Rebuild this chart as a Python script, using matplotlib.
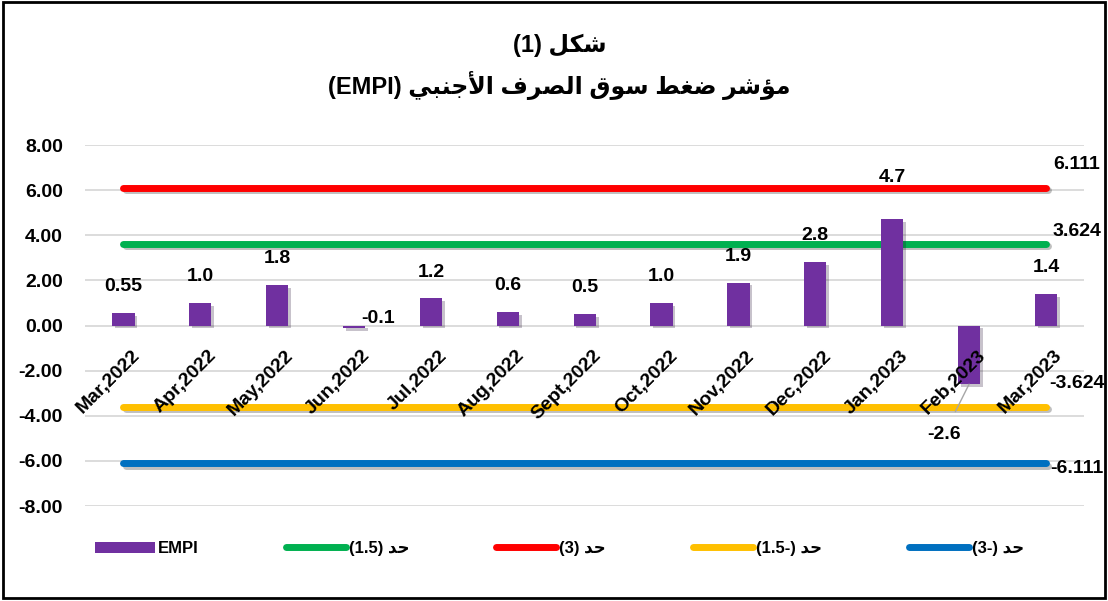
import matplotlib
matplotlib.use('Agg')
import matplotlib.pyplot as plt
import matplotlib.patheffects as pe
from matplotlib.patches import Patch, Rectangle
from matplotlib.lines import Line2D

plt.rcParams['font.family'] = ['Liberation Sans', 'DejaVu Sans']

months = ['Mar,2022', 'Apr,2022', 'May,2022', 'Jun,2022', 'Jul,2022', 'Aug,2022',
          'Sept,2022', 'Oct,2022', 'Nov,2022', 'Dec,2022', 'Jan,2023', 'Feb,2023', 'Mar,2023']
empi = [0.55, 1.0, 1.8, -0.1, 1.2, 0.6, 0.5, 1.0, 1.9, 2.8, 4.7, -2.6, 1.4]
empi_labels = ['0.55', '1.0', '1.8', '-0.1', '1.2', '0.6', '0.5', '1.0', '1.9', '2.8', '4.7', '-2.6', '1.4']
lim_pos15 = 3.624
lim_pos3 = 6.111
lim_neg15 = -3.624
lim_neg3 = -6.111

# arabic text in visual order (presentation forms, matplotlib has no shaping)
had = '\uFEAA\uFEA3'  # حد
title1 = '(1) \uFEDE\uFEDC\uFEB7'  # شكل (1)
title2 = ('(EMPI) '
          '\uFEF2\uFE92\uFEE8\uFE9F\uFEF7\uFE8D '
          '\uFED1\uFEAE\uFEBC\uFEDF\uFE8D '
          '\uFED5\uFEEE\uFEB3 '
          '\uFEC2\uFED0\uFEBF '
          '\uFEAE\uFEB7\uFE86\uFEE3')

c_bar = '#7030A0'
c_green = '#00B050'
c_red = '#FF0000'
c_yellow = '#FFC000'
c_blue = '#0070C0'

fig = plt.figure(figsize=(11.08, 6.01), dpi=100)
ax = fig.add_axes([0.0767, 0.158, 0.902, 0.6007])

x = list(range(len(months)))
shadow_line = [pe.SimpleLineShadow(offset=(1.5, -1.5), alpha=0.25), pe.Normal()]

bars = ax.bar(x, empi, width=0.29, color=c_bar, zorder=3)
for b in bars:
    b.set_path_effects([pe.SimplePatchShadow(offset=(2, -2), alpha=0.25), pe.Normal()])

for val, col in [(lim_pos15, c_green), (lim_pos3, c_red), (lim_neg15, c_yellow), (lim_neg3, c_blue)]:
    ax.plot(x, [val] * len(x), color=col, lw=5, solid_capstyle='round', zorder=2,
            path_effects=shadow_line)

ax.set_xlim(-0.5, len(x) - 0.5)
ax.set_ylim(-8, 8)
ax.set_yticks(range(-8, 9, 2))
ax.set_yticklabels(['%.2f' % v for v in range(-8, 9, 2)], fontsize=14, fontweight='bold')
ax.tick_params(axis='y', length=0, pad=16)
ax.set_xticks([])
ax.grid(axis='y', color='#D9D9D9', lw=1.3, zorder=0)
ax.set_axisbelow(True)
for s in ax.spines.values():
    s.set_visible(False)

# category labels, Excel-style next to the zero line
for i, m in enumerate(months):
    ax.text(i + 0.1, -0.95, m, rotation=45, rotation_mode='anchor', ha='right', va='top',
            fontsize=14, fontweight='bold', zorder=5)

# bar value labels
for i, (v, lab) in enumerate(zip(empi, empi_labels)):
    if v < -1:
        ax.annotate(lab, xy=(i, v), xytext=(-18, -36), textcoords='offset points',
                    ha='center', va='center', fontsize=14, fontweight='bold',
                    arrowprops=dict(arrowstyle='-', color='#A6A6A6', lw=1,
                                    shrinkA=9, shrinkB=0))
    elif v < 0:
        ax.annotate(lab, xy=(i, 0), xytext=(17, 5), textcoords='offset points',
                    ha='center', va='center', fontsize=14, fontweight='bold')
    elif v > 4:
        ax.annotate(lab, xy=(i, v), xytext=(0, 30), textcoords='offset points',
                    ha='center', va='center', fontsize=14, fontweight='bold')
    else:
        ax.annotate(lab, xy=(i, v), xytext=(0, 19), textcoords='offset points',
                    ha='center', va='center', fontsize=14, fontweight='bold')

# limit line labels
last = len(x) - 1
for val, dy in [(lim_pos3, 17), (lim_pos15, 9), (lim_neg15, 17), (lim_neg3, -4)]:
    ax.annotate('%.3f' % val, xy=(last, val), xytext=(22, dy), textcoords='offset points',
                ha='center', va='center', fontsize=14, fontweight='bold', annotation_clip=False)

fig.text(0.505, 0.925, title1, ha='center', va='center', fontsize=17, fontweight='bold')
fig.text(0.505, 0.858, title2, ha='center', va='center', fontsize=17, fontweight='bold')

handles = [Patch(facecolor=c_bar),
           Line2D([], [], color=c_green, lw=5, solid_capstyle='round'),
           Line2D([], [], color=c_red, lw=5, solid_capstyle='round'),
           Line2D([], [], color=c_yellow, lw=5, solid_capstyle='round'),
           Line2D([], [], color=c_blue, lw=5, solid_capstyle='round')]
labels = ['EMPI', '(1.5) ' + had, '(3) ' + had, '(1.5-) ' + had, '(3-) ' + had]
fig.legend(handles, labels, loc='center', bbox_to_anchor=(0.505, 0.087), ncol=5,
           frameon=False, handlelength=3.6, handletextpad=0.2, columnspacing=5.2,
           prop={'weight': 'bold', 'size': 12})

fig.patches.append(Rectangle((0.003, 0.005), 0.994, 0.992, transform=fig.transFigure,
                             fill=False, edgecolor='black', lw=2))

fig.savefig('out.png', dpi=100, facecolor='white')
